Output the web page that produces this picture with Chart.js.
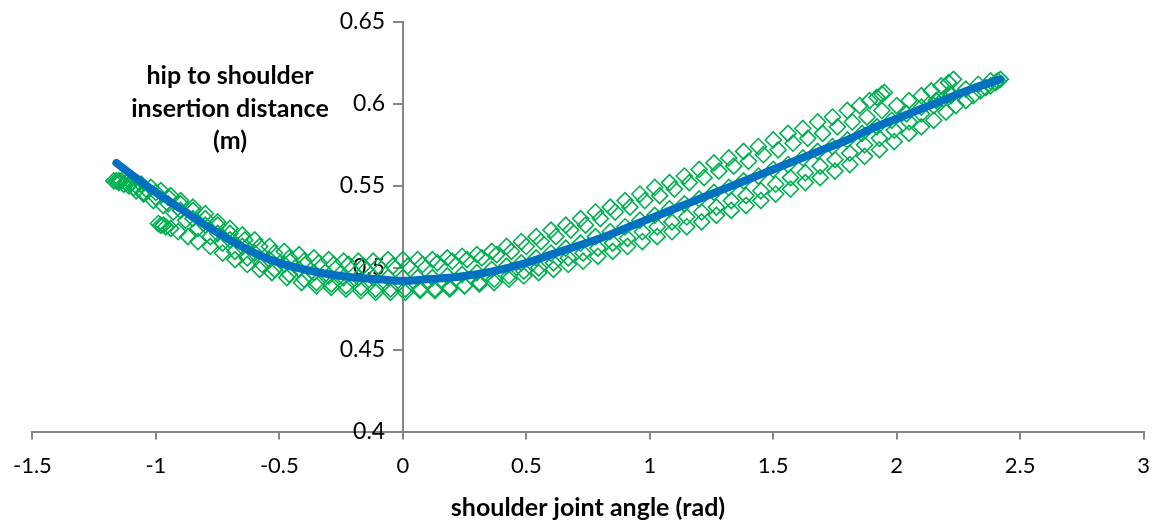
<!DOCTYPE html>
<html>
<head>
<meta charset="utf-8">
<script src="https://cdn.jsdelivr.net/npm/chart.js@4"></script>
<style>
  html, body { margin: 0; padding: 0; background: #fff; }
  #wrap { width: 1163px; height: 523px; position: relative; }
</style>
</head>
<body>
<div id="wrap"><canvas id="scatterChart"></canvas></div>
<script>
const xTicks = [-1.5, -1, -0.5, 0, 0.5, 1, 1.5, 2, 2.5, 3]
const yTicks = [0.4, 0.45, 0.5, 0.55, 0.6, 0.65]

// polynomial trendline
const fitAngle = [-1.16, -1.1, -1.0, -0.9, -0.8, -0.7, -0.6, -0.5, -0.4, -0.3, -0.2, -0.1, 0, 0.1, 0.2, 0.3, 0.4, 0.5, 0.6, 0.7, 0.8, 0.9, 1.0, 1.1, 1.2, 1.3, 1.4, 1.5, 1.6, 1.7, 1.8, 1.9, 2.0, 2.1, 2.2, 2.3, 2.42]
const fitDistance = [0.564, 0.557, 0.546, 0.536, 0.526, 0.517, 0.509, 0.503, 0.499, 0.496, 0.494, 0.493, 0.492, 0.493, 0.494, 0.496, 0.499, 0.503, 0.508, 0.513, 0.518, 0.524, 0.530, 0.536, 0.542, 0.548, 0.554, 0.560, 0.566, 0.572, 0.578, 0.585, 0.591, 0.597, 0.603, 0.609, 0.615]

// measured samples, one array pair per pass of the movement
const pass1Angle = [-1.17, -1.16, -1.15, -1.13, -1.11, -1.08, -1.05, -1.01, -0.97, -0.93, -0.88, -0.83, -0.78, -0.73, -0.68, -0.63, -0.57, -0.52, -0.46, -0.40, -0.35, -0.29, -0.23, -0.17, -0.11, -0.05, 0.01, 0.07, 0.13, 0.19, 0.25, 0.31, 0.37, 0.43, 0.49, 0.55, 0.61, 0.67, 0.73, 0.79, 0.85, 0.91, 0.97, 1.03, 1.09, 1.15, 1.21, 1.27, 1.33, 1.39, 1.45, 1.51, 1.57, 1.63, 1.69, 1.75, 1.81, 1.87, 1.93, 1.99, 2.05, 2.10, 2.15, 2.20, 2.24, 2.28, 2.31, 2.34, 2.36, 2.38, 2.40, 2.41, 2.42]
const pass1Distance = [0.553, 0.553, 0.552, 0.551, 0.550, 0.547, 0.545, 0.541, 0.538, 0.534, 0.529, 0.524, 0.519, 0.515, 0.510, 0.506, 0.502, 0.499, 0.496, 0.493, 0.491, 0.490, 0.489, 0.488, 0.487, 0.487, 0.487, 0.487, 0.487, 0.488, 0.489, 0.490, 0.491, 0.493, 0.495, 0.497, 0.499, 0.502, 0.504, 0.507, 0.510, 0.513, 0.516, 0.519, 0.522, 0.525, 0.528, 0.532, 0.535, 0.538, 0.541, 0.545, 0.548, 0.552, 0.555, 0.559, 0.563, 0.568, 0.572, 0.577, 0.582, 0.586, 0.590, 0.595, 0.599, 0.602, 0.605, 0.608, 0.610, 0.611, 0.613, 0.614, 0.615]

const pass2Angle = [-1.15, -1.12, -1.08, -1.04, -1.00, -0.95, -0.90, -0.85, -0.80, -0.75, -0.70, -0.64, -0.58, -0.52, -0.46, -0.40, -0.34, -0.28, -0.22, -0.16, -0.10, -0.04, 0.02, 0.08, 0.14, 0.20, 0.26, 0.32, 0.38, 0.44, 0.50, 0.56, 0.62, 0.68, 0.74, 0.80, 0.86, 0.92, 0.98, 1.04, 1.10, 1.16, 1.22, 1.28, 1.34, 1.40, 1.46, 1.52, 1.58, 1.64, 1.70, 1.76, 1.82, 1.88, 1.94, 2.00, 2.05, 2.10, 2.14, 2.18, 2.21, 2.23]
const pass2Distance = [0.553, 0.552, 0.550, 0.548, 0.546, 0.543, 0.539, 0.535, 0.530, 0.526, 0.521, 0.517, 0.513, 0.509, 0.506, 0.504, 0.503, 0.502, 0.502, 0.501, 0.501, 0.501, 0.501, 0.502, 0.503, 0.504, 0.505, 0.506, 0.508, 0.510, 0.513, 0.516, 0.519, 0.523, 0.526, 0.530, 0.534, 0.537, 0.541, 0.544, 0.548, 0.552, 0.555, 0.559, 0.562, 0.565, 0.569, 0.572, 0.576, 0.579, 0.582, 0.586, 0.589, 0.592, 0.596, 0.599, 0.602, 0.605, 0.608, 0.611, 0.613, 0.615]

const pass3Angle = [-0.99, -0.98, -0.97, -0.96, -0.94, -0.91, -0.87, -0.83, -0.78, -0.73, -0.68, -0.63, -0.58, -0.53, -0.47, -0.41, -0.35, -0.29, -0.23, -0.17, -0.11, -0.05, 0.01, 0.07, 0.13, 0.19, 0.25, 0.31, 0.37, 0.43, 0.49, 0.55, 0.61, 0.67, 0.73, 0.79, 0.85, 0.91, 0.97, 1.03, 1.09, 1.15, 1.21, 1.27, 1.33, 1.39, 1.45, 1.51, 1.57, 1.63, 1.69, 1.75, 1.81, 1.87, 1.93, 1.99, 2.05, 2.10, 2.15, 2.19, 2.22]
const pass3Distance = [0.527, 0.526, 0.526, 0.525, 0.524, 0.522, 0.519, 0.516, 0.513, 0.509, 0.505, 0.502, 0.499, 0.497, 0.494, 0.491, 0.489, 0.488, 0.487, 0.486, 0.485, 0.485, 0.485, 0.486, 0.486, 0.487, 0.489, 0.491, 0.493, 0.495, 0.498, 0.500, 0.503, 0.506, 0.509, 0.512, 0.515, 0.518, 0.522, 0.525, 0.528, 0.531, 0.534, 0.537, 0.541, 0.544, 0.547, 0.551, 0.555, 0.558, 0.562, 0.566, 0.570, 0.575, 0.579, 0.584, 0.589, 0.594, 0.599, 0.603, 0.606]

const pass4Angle = [-1.14, -1.10, -1.06, -1.02, -0.98, -0.94, -0.90, -0.85, -0.80, -0.75, -0.70, -0.65, -0.60, -0.54, -0.48, -0.42, -0.36, -0.30, -0.24, -0.18, -0.12, -0.06, 0.00, 0.06, 0.12, 0.18, 0.24, 0.30, 0.36, 0.42, 0.48, 0.54, 0.60, 0.66, 0.72, 0.78, 0.84, 0.90, 0.96, 1.02, 1.08, 1.14, 1.20, 1.26, 1.32, 1.38, 1.44, 1.50, 1.56, 1.62, 1.68, 1.74, 1.80, 1.85, 1.89, 1.92, 1.94, 1.95]
const pass4Distance = [0.553, 0.552, 0.551, 0.549, 0.547, 0.544, 0.541, 0.537, 0.533, 0.528, 0.524, 0.520, 0.517, 0.513, 0.510, 0.508, 0.506, 0.505, 0.504, 0.504, 0.504, 0.505, 0.505, 0.505, 0.505, 0.506, 0.507, 0.508, 0.510, 0.513, 0.516, 0.519, 0.523, 0.526, 0.530, 0.534, 0.537, 0.541, 0.545, 0.549, 0.552, 0.556, 0.560, 0.564, 0.567, 0.571, 0.574, 0.578, 0.582, 0.585, 0.589, 0.592, 0.596, 0.599, 0.602, 0.604, 0.606, 0.607]

const pass5Angle = [-1.13, -1.09, -1.05, -1.00, -0.95, -0.90, -0.85, -0.80, -0.75, -0.70, -0.65, -0.60, -0.54, -0.48, -0.42, -0.36, -0.30, -0.24, -0.18, -0.12, -0.06, 0.00, 0.06, 0.12, 0.18, 0.24, 0.30, 0.36, 0.42, 0.48, 0.54, 0.60, 0.66, 0.72, 0.78, 0.84, 0.90, 0.96, 1.02, 1.08, 1.14, 1.20, 1.26, 1.32, 1.38, 1.44, 1.50, 1.56, 1.62, 1.68, 1.74, 1.80, 1.86, 1.92, 1.98, 2.04, 2.10, 2.16, 2.22, 2.28, 2.33, 2.38]
const pass5Distance = [0.551, 0.549, 0.546, 0.543, 0.539, 0.535, 0.530, 0.526, 0.521, 0.517, 0.513, 0.509, 0.505, 0.502, 0.499, 0.497, 0.495, 0.494, 0.494, 0.494, 0.494, 0.494, 0.494, 0.494, 0.495, 0.496, 0.497, 0.499, 0.501, 0.503, 0.506, 0.509, 0.512, 0.515, 0.519, 0.522, 0.525, 0.529, 0.532, 0.536, 0.539, 0.542, 0.546, 0.549, 0.553, 0.556, 0.560, 0.563, 0.567, 0.571, 0.574, 0.578, 0.582, 0.586, 0.590, 0.594, 0.598, 0.602, 0.605, 0.609, 0.612, 0.614]

const passes = [
  [pass1Angle, pass1Distance],
  [pass2Angle, pass2Distance],
  [pass3Angle, pass3Distance],
  [pass4Angle, pass4Distance],
  [pass5Angle, pass5Distance]
]

const measured = []
passes.forEach(([angles, distances]) => {
  angles.forEach((a, i) => measured.push({ x: a, y: distances[i] }))
})
const fitPoints = fitAngle.map((a, i) => ({ x: a, y: fitDistance[i] }))

const axisGrey = '#868686'
const fontFamily = 'Lato, "Open Sans", sans-serif'

// y-axis title sits inside the plot, left of the vertical axis
const yTitlePlugin = {
  id: 'yTitle',
  afterDraw(chart) {
    const { ctx, scales } = chart
    const cx = scales.x.getPixelForValue(-0.7)
    const cy = scales.y.getPixelForValue(0.597)
    const lines = ['hip to shoulder', 'insertion distance', '(m)']
    ctx.save()
    ctx.font = 'bold 25px ' + fontFamily
    ctx.fillStyle = '#000'
    ctx.textAlign = 'center'
    ctx.textBaseline = 'middle'
    lines.forEach((t, i) => ctx.fillText(t, cx, cy + (i - 1) * 32.5))
    ctx.restore()
  }
}

const ctx = document.getElementById('scatterChart').getContext('2d')
new Chart(ctx, {
  type: 'scatter',
  data: {
    datasets: [
      {
        label: 'fit',
        data: fitPoints,
        showLine: true,
        borderColor: '#0070C0',
        borderWidth: 8,
        borderCapStyle: 'round',
        tension: 0.4,
        pointRadius: 0,
        order: 0
      },
      {
        label: 'measured',
        data: measured,
        pointStyle: 'rectRot',
        pointRadius: 8,
        borderColor: '#00B050',
        backgroundColor: 'rgba(255,255,255,0)',
        pointBorderWidth: 1.6,
        order: 1
      }
    ]
  },
  options: {
    responsive: true,
    maintainAspectRatio: false,
    animation: false,
    layout: { padding: { left: 32, right: 18, top: 22, bottom: 0 } },
    plugins: {
      legend: { display: false },
      tooltip: { enabled: false }
    },
    scales: {
      x: {
        type: 'linear',
        position: 'bottom',
        min: -1.5,
        max: 3,
        afterBuildTicks: axis => { axis.ticks = xTicks.map(v => ({ value: v })) },
        border: { color: axisGrey, width: 2 },
        grid: { drawOnChartArea: false, color: axisGrey, lineWidth: 2, tickLength: 8 },
        ticks: { color: '#000', font: { family: fontFamily, size: 22 }, padding: 13, callback: v => String(v) },
        title: {
          display: true,
          text: 'shoulder joint angle (rad)',
          color: '#000',
          font: { family: fontFamily, size: 25, weight: 'bold' },
          padding: { top: 1, bottom: 0 }
        }
      },
      y: {
        type: 'linear',
        position: { x: 0 },
        min: 0.4,
        max: 0.65,
        afterBuildTicks: axis => { axis.ticks = yTicks.map(v => ({ value: v })) },
        border: { color: axisGrey, width: 2 },
        grid: { drawOnChartArea: false, color: axisGrey, lineWidth: 2, tickLength: 9 },
        // label sits flush on a centred axis, so pad it with trailing spaces
        ticks: { color: '#000', font: { family: fontFamily, size: 23 }, callback: v => String(v) + '   ' }
      }
    }
  },
  plugins: [yTitlePlugin]
})
</script>
</body>
</html>
